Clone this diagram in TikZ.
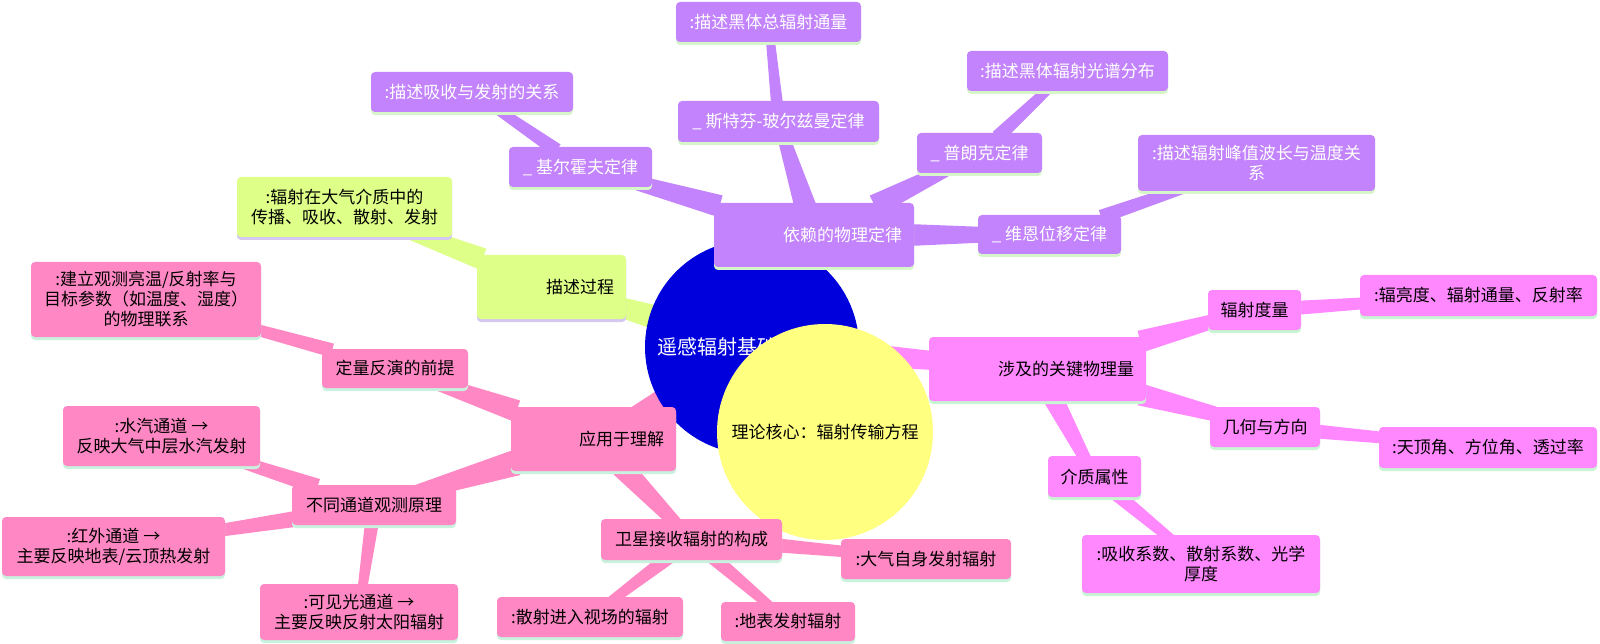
\documentclass[tikz,border=0pt]{standalone}
\usepackage{fontspec}
\setmainfont{Noto Sans CJK SC}
\usetikzlibrary{calc,shadows}
\pgfdeclarelayer{bg}
\pgfsetlayers{bg,main}
\definecolor{pur}{RGB}{194,131,252}
\definecolor{purS}{RGB}{214,245,200}
\definecolor{grn}{RGB}{222,255,136}
\definecolor{grnS}{RGB}{212,200,240}
\definecolor{pnk}{RGB}{255,136,196}
\definecolor{pnkS}{RGB}{200,242,222}
\definecolor{mag}{RGB}{255,136,255}
\definecolor{magS}{RGB}{200,245,210}
\definecolor{rootblue}{RGB}{0,0,220}
\definecolor{ylw}{RGB}{255,255,128}
\newcommand\mmlink[5]{%
  \fill[#5] let \p1=(#1.center), \p2=(#2.center),
    \n1={atan2(\y2-\y1,\x2-\x1)}, \p3=($(#1.\n1)!-6pt!(\p2)$) in
    ($(\p3)+(\n1+90:#3/2)$) -- ($(\p2)+(\n1+90:#4/2)$) --
    ($(\p2)+(\n1-90:#4/2)$) -- ($(\p3)+(\n1-90:#3/2)$) -- cycle;}
\tikzset{
  box/.style={rounded corners=4pt, inner sep=0pt, align=center,
    font=\fontsize{17}{20}\selectfont},
  wh/.style 2 args={minimum width=#1pt, minimum height=#2pt},
  ra/.style={text width=#1pt, align=right},
  pbox/.style={box, fill=pur, text=white, general shadow={fill=purS, shadow yshift=-3pt}},
  gbox/.style={box, fill=grn, text=black, general shadow={fill=grnS, shadow yshift=-3pt}},
  kbox/.style={box, fill=pnk, text=black, general shadow={fill=pnkS, shadow yshift=-3pt}},
  mbox/.style={box, fill=mag, text=black, general shadow={fill=magS, shadow yshift=-3pt}},
}
\begin{document}
\begin{tikzpicture}[x=1pt,y=-1pt]
\useasboundingbox (0,0) rectangle (1600,644);
% central circles
\node[circle, fill=rootblue, minimum size=214pt, inner sep=0pt, text=white,
  text width=190pt, align=left, font=\fontsize{20}{24}\selectfont] (root) at (752,347) {遥感辐射基础};
\node[circle, fill=ylw, minimum size=216pt, inner sep=0pt,
  font=\fontsize{17}{20}\selectfont] (core) at (825,432) {理论核心：辐射传输方程};
% purple branch
\node[pbox, wh={200}{64}, ra=176] (law) at (814,235) {依赖的物理定律};
\node[pbox, wh={143}{40}] (kir) at (580.5,167) {\_ 基尔霍夫定律};
\node[pbox, wh={202}{40}] (kirD) at (472,92) {:描述吸收与发射的关系};
\node[pbox, wh={201}{41}] (ste) at (778.5,121.5) {\_ 斯特芬-玻尔兹曼定律};
\node[pbox, wh={185}{40}] (steD) at (768.5,22) {:描述黑体总辐射通量};
\node[pbox, wh={125}{40}] (pla) at (979.5,153) {\_ 普朗克定律};
\node[pbox, wh={201}{40}] (plaD) at (1067.5,71) {:描述黑体辐射光谱分布};
\node[pbox, wh={143}{39}] (wie) at (1049.5,234.5) {\_ 维恩位移定律};
\node[pbox, wh={237}{56}] (wieD) at (1256.5,163) {:描述辐射峰值波长与温度关\\系};
% green branch
\node[gbox, wh={149}{64}, ra=125] (proc) at (551.5,287) {描述过程};
\node[gbox, wh={215}{60}] (procD) at (344.5,207) {:辐射在大气介质中的\\传播、吸收、散射、发射};
% pink branch
\node[kbox, wh={165}{64}, ra=141] (app) at (593.5,439) {应用于理解};
\node[kbox, wh={146}{39}] (inv) at (395,368.5) {定量反演的前提};
\node[kbox, wh={230}{75}] (invD) at (146,299.5) {:建立观测亮温/反射率与\\目标参数（如温度、湿度）\\的物理联系};
\node[kbox, wh={164}{40}] (chan) at (374,505) {不同通道观测原理};
\node[kbox, wh={197}{60}] (wv) at (161.5,436) {:水汽通道 →\\反映大气中层水汽发射};
\node[kbox, wh={223}{59}] (ir) at (113.5,546.5) {:红外通道 →\\主要反映地表/云顶热发射};
\node[kbox, wh={198}{56}] (vis) at (359,612) {:可见光通道 →\\主要反映反射太阳辐射};
\node[kbox, wh={181}{41}] (sat) at (691.5,539.5) {卫星接收辐射的构成};
\node[kbox, wh={186}{40}] (sca) at (590,617) {:散射进入视场的辐射};
\node[kbox, wh={134}{39}] (sfc) at (788,621.5) {:地表发射辐射};
\node[kbox, wh={170}{40}] (atm) at (926,559) {:大气自身发射辐射};
% magenta branch
\node[mbox, wh={217}{64}, ra=193] (qty) at (1037.5,369) {涉及的关键物理量};
\node[mbox, wh={93}{40}] (rad) at (1254.5,310) {辐射度量};
\node[mbox, wh={237}{41}] (radD) at (1478.5,295.5) {:辐亮度、辐射通量、反射率};
\node[mbox, wh={110}{40}] (geo) at (1265,427) {几何与方向};
\node[mbox, wh={218}{41}] (geoD) at (1488,447.5) {:天顶角、方位角、透过率};
\node[mbox, wh={93}{41}] (med) at (1094.5,476.5) {介质属性};
\node[mbox, wh={238}{58}] (medD) at (1201,564) {:吸收系数、散射系数、光学\\厚度};
% connectors
\begin{pgfonlayer}{bg}
\fill[white] (0,0) rectangle (1600,644);
\mmlink{root}{law}{24pt}{12pt}{pur}
\mmlink{root}{proc}{24pt}{12pt}{grn}
\mmlink{root}{app}{24pt}{12pt}{pnk}
\mmlink{root}{qty}{24pt}{12pt}{mag}
\mmlink{law}{kir}{22pt}{10pt}{pur}
\mmlink{law}{ste}{22pt}{10pt}{pur}
\mmlink{law}{pla}{22pt}{10pt}{pur}
\mmlink{law}{wie}{22pt}{10pt}{pur}
\mmlink{kir}{kirD}{14pt}{8pt}{pur}
\mmlink{ste}{steD}{12pt}{8pt}{pur}
\mmlink{pla}{plaD}{14pt}{8pt}{pur}
\mmlink{wie}{wieD}{14pt}{8pt}{pur}
\mmlink{proc}{procD}{22pt}{10pt}{grn}
\mmlink{app}{inv}{22pt}{10pt}{pnk}
\mmlink{app}{chan}{26pt}{10pt}{pnk}
\mmlink{app}{sat}{22pt}{10pt}{pnk}
\mmlink{inv}{invD}{14pt}{8pt}{pnk}
\mmlink{chan}{wv}{16pt}{8pt}{pnk}
\mmlink{chan}{ir}{16pt}{8pt}{pnk}
\mmlink{chan}{vis}{14pt}{8pt}{pnk}
\mmlink{sat}{sca}{14pt}{8pt}{pnk}
\mmlink{sat}{sfc}{14pt}{8pt}{pnk}
\mmlink{sat}{atm}{14pt}{8pt}{pnk}
\mmlink{qty}{rad}{22pt}{10pt}{mag}
\mmlink{qty}{geo}{22pt}{10pt}{mag}
\mmlink{qty}{med}{20pt}{10pt}{mag}
\mmlink{rad}{radD}{14pt}{8pt}{mag}
\mmlink{geo}{geoD}{14pt}{8pt}{mag}
\mmlink{med}{medD}{14pt}{8pt}{mag}
\end{pgfonlayer}
\end{tikzpicture}
\end{document}
